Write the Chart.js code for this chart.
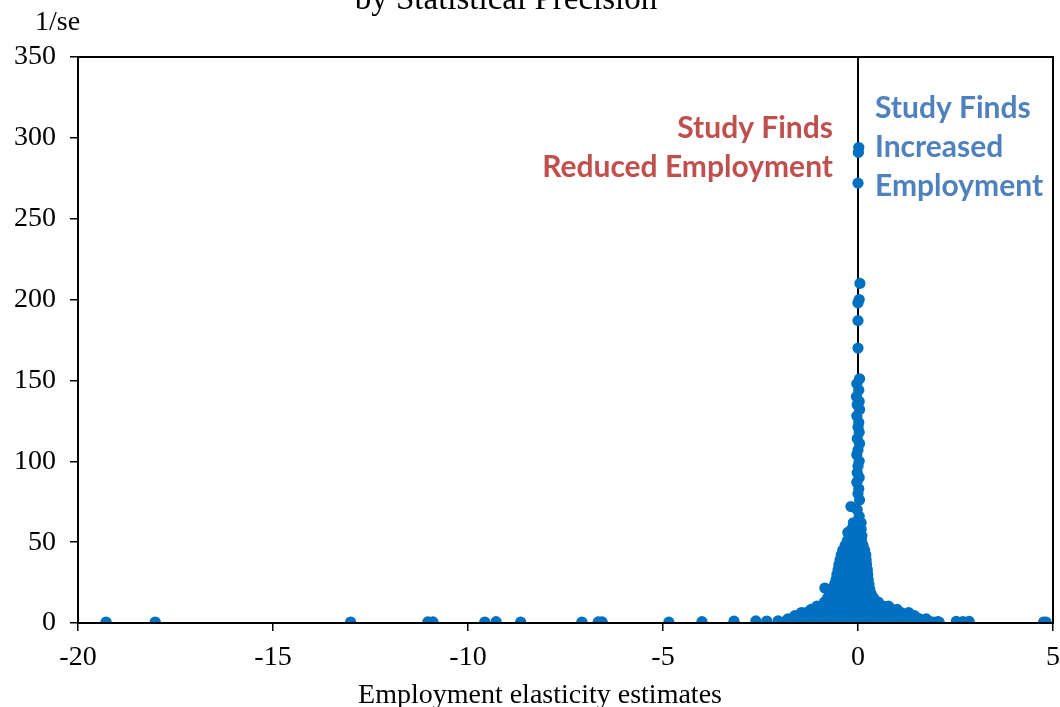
<!DOCTYPE html>
<html>
<head>
<meta charset="utf-8">
<script src="https://cdn.jsdelivr.net/npm/chart.js@4/dist/chart.umd.min.js"></script>
<style>
html,body{margin:0;padding:0;background:#fff;}
#wrap{width:1060px;height:707px;position:relative;}
</style>
</head>
<body>
<div id="wrap"><canvas id="c" width="1060" height="707"></canvas></div>
<script>
// ---- data ----
const xTicks = [-20, -15, -10, -5, 0, 5];
const yTicks = [0, 50, 100, 150, 200, 250, 300, 350];

// isolated estimates along the axis and outliers
const tailX = [-19.28,-18.02,-13.01,-11.03,-10.9,-9.57,-9.28,-8.65,-7.08,-6.66,-6.56,-4.85,-4.0,-3.18,-2.62,-2.34,-2.05,-1.80,0.85,1.41,1.62,1.82,2.05,2.52,2.69,2.85,4.76,4.82,-0.85,0.41];
const tailY = [0.6,0.6,0.6,0.7,0.7,0.6,0.8,0.6,0.6,0.7,0.7,0.5,0.8,1.1,1.3,1.2,1.3,0.5,2.2,1.0,0.9,1.1,0.8,1.0,0.9,1.0,0.6,0.6,21.6,13];

// high-precision spike near zero
const spikeX = [0.02,0.01,0.0,0.05,0.03,0.0,0.0,0.0,0.04,-0.03,0.02,-0.04,0.03,-0.02,0.04,-0.03,0.02,0.0,0.03,-0.02,0.04,0.0,-0.03,0.03,0.0,-0.02,0.03,-0.03,0.02,0.0,-0.18,0.04,-0.02,0.03,-0.26,0.02,-0.04];
const spikeY = [294,291,272,210,200,198,187,170,151,148,144,140,137,135,132,128,124,121,118,114,111,107,104,100,97,93,90,87,83,80,72,76,70,66,56,62,59];

// dense cluster, row by row
const clusterY = [0.5,2.5,4.5,6.5,8.5,10.5,13,15.5,18,21,24,27,30,33,36,39,42,45,48,51,54,58,62];
const clusterX = [
 [-2.02,-1.9,-1.78,-1.66,-1.54,-1.42,-1.3,-1.18,-1.06,-0.94,-0.82,-0.7,-0.58,-0.46,-0.34,-0.22,-0.1,0.02,0.14,0.26,0.38,0.5,0.62,0.74,0.86,0.98,1.1,1.22,1.34,1.46,1.58,1.7,1.82,1.94,2.08],
 [-1.8,-1.68,-1.56,-1.44,-1.32,-1.2,-1.08,-0.96,-0.84,-0.72,-0.6,-0.48,-0.36,-0.24,-0.12,0.0,0.12,0.24,0.36,0.48,0.6,0.72,0.84,0.96,1.08,1.2,1.32,1.44,1.58,1.75],
 [-1.62,-1.5,-1.38,-1.26,-1.14,-1.02,-0.9,-0.78,-0.66,-0.54,-0.42,-0.3,-0.18,-0.06,0.06,0.18,0.3,0.42,0.54,0.66,0.78,0.9,1.02,1.14,1.28,1.45],
 [-1.45,-1.33,-1.21,-1.09,-0.97,-0.85,-0.73,-0.61,-0.49,-0.37,-0.25,-0.13,-0.01,0.11,0.23,0.35,0.47,0.59,0.71,0.83,0.96,1.1,1.3],
 [-1.2,-1.08,-0.96,-0.84,-0.72,-0.6,-0.48,-0.36,-0.24,-0.12,0.0,0.12,0.24,0.36,0.48,0.6,0.72,0.86,1.0],
 [-1.05,-0.93,-0.81,-0.69,-0.57,-0.45,-0.33,-0.21,-0.09,0.03,0.15,0.27,0.39,0.51,0.64,0.78],
 [-0.86,-0.74,-0.62,-0.5,-0.38,-0.26,-0.14,-0.02,0.1,0.22,0.34,0.42,0.52],
 [-0.78,-0.66,-0.54,-0.42,-0.3,-0.18,-0.06,0.06,0.18,0.3,0.4],
 [-0.72,-0.6,-0.48,-0.36,-0.24,-0.12,0.0,0.12,0.24,0.34],
 [-0.64,-0.52,-0.4,-0.28,-0.16,-0.04,0.08,0.2,0.3],
 [-0.6,-0.48,-0.36,-0.24,-0.12,0.0,0.12,0.24,0.28],
 [-0.56,-0.44,-0.32,-0.2,-0.08,0.04,0.16,0.26],
 [-0.54,-0.42,-0.3,-0.18,-0.06,0.06,0.18,0.25],
 [-0.51,-0.39,-0.27,-0.15,-0.03,0.09,0.2,0.24],
 [-0.49,-0.37,-0.25,-0.13,-0.01,0.11,0.22],
 [-0.46,-0.34,-0.22,-0.1,0.02,0.14,0.21],
 [-0.43,-0.31,-0.19,-0.07,0.05,0.15,0.2],
 [-0.39,-0.27,-0.15,-0.03,0.09,0.17],
 [-0.33,-0.21,-0.09,0.03,0.13],
 [-0.27,-0.15,-0.03,0.09],
 [-0.22,-0.1,0.02,0.1],
 [-0.16,-0.04,0.08],
 [-0.12,0.0,0.08]
];

// ---- build points ----
const points = [];
tailX.forEach((x,i)=>points.push({x:x,y:tailY[i]}));
clusterY.forEach((y,r)=>clusterX[r].forEach(x=>points.push({x:x,y:y})));
spikeX.forEach((x,i)=>points.push({x:x,y:spikeY[i]}));

const serif = '"Liberation Serif", "Times New Roman", serif';
const sans = 'Lato, "Open Sans", sans-serif';

const decor = {
  id:'decor',
  beforeDatasetsDraw(chart){
    const ctx = chart.ctx, a = chart.chartArea, xs = chart.scales.x;
    ctx.save();
    ctx.strokeStyle = '#000'; ctx.lineWidth = 2;
    const x0 = Math.round(xs.getPixelForValue(0));
    ctx.beginPath(); ctx.moveTo(x0, a.top); ctx.lineTo(x0, a.bottom); ctx.stroke();
    ctx.restore();
  },
  afterDraw(chart){
    const ctx = chart.ctx, a = chart.chartArea;
    ctx.save();
    ctx.strokeStyle = '#000'; ctx.lineWidth = 2;
    ctx.strokeRect(a.left, a.top, a.right - a.left, a.bottom - a.top);
    ctx.fillStyle = '#000';
    ctx.textBaseline = 'alphabetic';
    ctx.font = '33px ' + serif; ctx.textAlign = 'center';
    ctx.fillText('by Statistical Precision', 506, 9);
    ctx.font = '28px ' + serif; ctx.textAlign = 'left';
    ctx.fillText('1/se', 35, 30);
    ctx.textAlign = 'center';
    ctx.fillText('Employment elasticity estimates', 540, 703);
    ctx.font = 'bold 30px ' + sans;
    ctx.fillStyle = '#C0504D'; ctx.textAlign = 'right';
    ctx.fillText('Study Finds', 833, 138);
    ctx.fillText('Reduced Employment', 833, 177);
    ctx.fillStyle = '#4F81BD'; ctx.textAlign = 'left';
    ctx.fillText('Study Finds', 875, 118);
    ctx.fillText('Increased', 875, 157);
    ctx.fillText('Employment', 875, 196);
    ctx.restore();
  }
};

new Chart(document.getElementById('c'), {
  type:'scatter',
  data:{datasets:[{
    data:points,
    backgroundColor:'#0070C0',
    borderColor:'#0070C0',
    borderWidth:0,
    pointRadius:5.6,
    pointHoverRadius:5.6
  }]},
  options:{
    responsive:false,
    animation:false,
    events:[],
    layout:{padding:{top:57,right:7,left:0,bottom:0}},
    plugins:{legend:{display:false},tooltip:{enabled:false},title:{display:false}},
    scales:{
      x:{
        type:'linear', min:-20, max:5,
        afterBuildTicks(s){ s.ticks = xTicks.map(v=>({value:v})); },
        afterFit(s){ s.height = 84; s.paddingRight = 0; s.paddingLeft = 0; },
        border:{display:true,color:'#000',width:2},
        grid:{drawOnChartArea:false,drawTicks:true,tickLength:8,color:'#000',lineWidth:1.5},
        ticks:{color:'#000',font:{family:serif,size:28},padding:10,maxRotation:0}
      },
      y:{
        type:'linear', min:0, max:350,
        afterBuildTicks(s){ s.ticks = yTicks.map(v=>({value:v})); },
        afterFit(s){ s.width = 78; s.paddingTop = 0; s.paddingBottom = 0; },
        border:{display:true,color:'#000',width:2},
        grid:{drawOnChartArea:false,drawTicks:true,tickLength:8,color:'#000',lineWidth:1.5},
        ticks:{color:'#000',font:{family:serif,size:28},padding:14}
      }
    }
  },
  plugins:[decor]
});
</script>
</body>
</html>
